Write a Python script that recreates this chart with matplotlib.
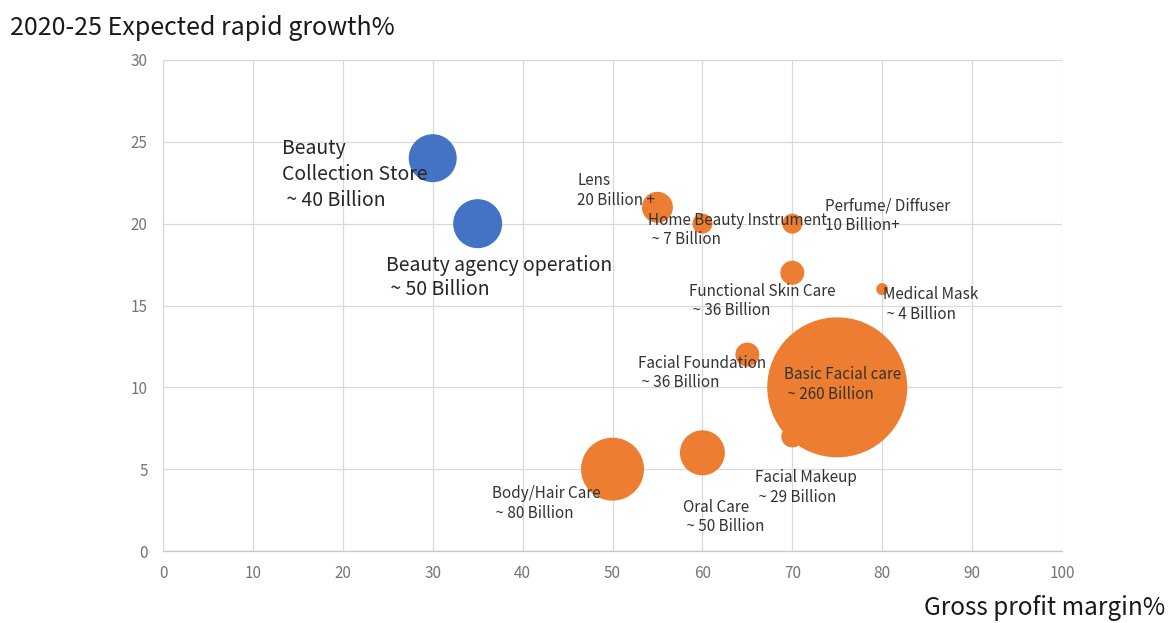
import matplotlib
matplotlib.use("Agg")
import matplotlib.pyplot as plt

plt.rcParams['font.family'] = ['Noto Sans CJK SC', 'DejaVu Sans']

# Category data: gross margin (%), expected growth (%), bubble diameter (px), group
names = ["Beauty\nCollection Store\n ~ 40 Billion",
         "Beauty agency operation\n ~ 50 Billion",
         "Lens\n20 Billion +",
         "Home Beauty Instrument\n ~ 7 Billion",
         "Perfume/ Diffuser\n10 Billion+",
         "Functional Skin Care\n ~ 36 Billion",
         "Medical Mask\n ~ 4 Billion",
         "Facial Foundation\n ~ 36 Billion",
         "Basic Facial care\n ~ 260 Billion",
         "Facial Makeup\n ~ 29 Billion",
         "Body/Hair Care\n ~ 80 Billion",
         "Oral Care\n ~ 50 Billion"]
margin = [30, 35, 55, 60, 70, 70, 80, 65, 75, 70, 50, 60]
growth = [24, 20, 21, 20, 20, 17, 16, 12, 10, 7, 5, 6]
bubble = [48, 49, 31, 20, 20, 24, 12, 24, 140, 22, 63, 45]
group = ["channel", "channel"] + ["product"] * 10

x_ticks = list(range(0, 101, 10))
y_ticks = list(range(0, 31, 5))

colors = {"channel": "#4472C4", "product": "#ED7D31"}

# label placement: offset (px) of the text block's top-left from the bubble centre
label_offsets = [(-151, 20), (-92, -31), (-80, 35), (-54, 12), (33, 26),
                 (-103, -10), (1, 3), (-109, 0), (-53, 21), (-37, -33),
                 (-121, -16), (-19, -46)]
label_spacing = [1.3, 1.18] + [1.2] * 10

DPI = 100
fig = plt.figure(figsize=(11.68, 6.23), dpi=DPI)
ax = fig.add_axes([163 / 1168, 72 / 623, 899 / 1168, 491 / 623])

px_to_pt = 72 / DPI
sizes = [(d * px_to_pt) ** 2 for d in bubble]
ax.scatter(margin, growth, s=sizes, c=[colors[g] for g in group],
           linewidths=0, zorder=3)

for i, (name, xv, yv, g) in enumerate(zip(names, margin, growth, group)):
    dx, dy = label_offsets[i]
    big = g == "channel"
    ax.annotate(name, (xv, yv), xytext=(dx, dy), textcoords="offset pixels",
                ha="left", va="top", fontsize=14 if big else 11,
                color="#262626" if big else "#333333",
                linespacing=label_spacing[i], zorder=5)

ax.set_xlim(0, 100)
ax.set_ylim(0, 30)
ax.set_xticks(x_ticks)
ax.set_yticks(y_ticks)
ax.grid(True, color="#D9D9D9", linewidth=0.9, zorder=0)
ax.set_axisbelow(True)
for side in ["top", "right", "left"]:
    ax.spines[side].set_visible(False)
ax.spines["bottom"].set_color("#C9C9C9")
ax.spines["bottom"].set_linewidth(1.0)
ax.tick_params(length=0, labelsize=11, labelcolor="#757575")
ax.tick_params(axis="y", pad=11)
ax.tick_params(axis="x", pad=10)

fig.text(10 / 1168, 1 - 28 / 623, "2020-25 Expected rapid growth%",
         ha="left", va="center", fontsize=18, color="#1A1A1A")
fig.text(1165 / 1168, 2 / 623, "Gross profit margin%",
         ha="right", va="bottom", fontsize=17.5, color="#1A1A1A")

fig.savefig("out.png", dpi=DPI)
